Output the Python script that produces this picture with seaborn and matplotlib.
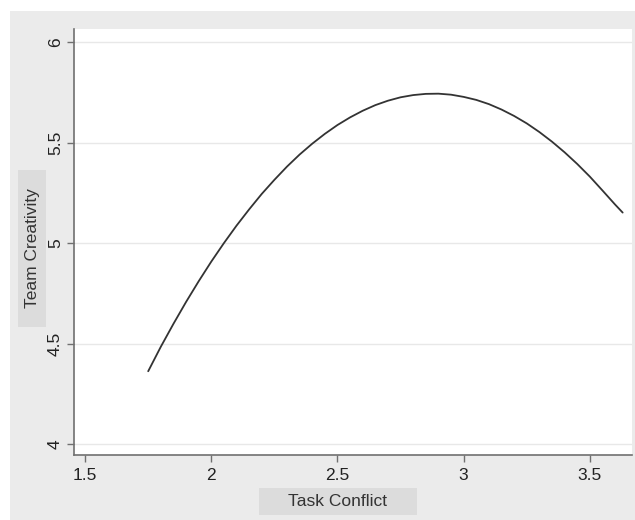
import numpy as np
import pandas as pd
import matplotlib.pyplot as plt
import seaborn as sns
from matplotlib.patches import Rectangle

# valori
task_conflict = [1.75, 1.80, 1.85, 1.90, 1.95, 2.00, 2.05, 2.10, 2.15, 2.20,
                 2.25, 2.30, 2.35, 2.40, 2.45, 2.50, 2.55, 2.60, 2.65, 2.70,
                 2.75, 2.80, 2.85, 2.90, 2.95, 3.00, 3.05, 3.10, 3.15, 3.20,
                 3.25, 3.30, 3.35, 3.40, 3.45, 3.50, 3.55, 3.60, 3.63]
team_creativity = [4.362, 4.484, 4.598, 4.707, 4.810, 4.908, 5.000, 5.087, 5.168, 5.245,
                   5.315, 5.381, 5.441, 5.495, 5.544, 5.588, 5.626, 5.659, 5.687, 5.709,
                   5.726, 5.737, 5.743, 5.744, 5.739, 5.728, 5.713, 5.692, 5.665, 5.633,
                   5.596, 5.553, 5.505, 5.452, 5.394, 5.331, 5.262, 5.192, 5.152]

x_ticks = [1.5, 2, 2.5, 3, 3.5]
x_tick_labels = ["1.5", "2", "2.5", "3", "3.5"]
y_ticks = [4, 4.5, 5, 5.5, 6]
y_tick_labels = ["4", "4.5", "5", "5.5", "6"]

df = pd.DataFrame({"Task Conflict": task_conflict, "Team Creativity": team_creativity})

sns.set_style("white")
plt.rcParams['font.family'] = ['Liberation Sans', 'DejaVu Sans']

W, H = 635, 520
fig = plt.figure(figsize=(W / 100, H / 100), dpi=100)
fig.patch.set_facecolor("white")

# sfondo grigio stile Stata
fig.add_artist(Rectangle((10 / W, 0), 1 - 10 / W, 1 - 11 / H, transform=fig.transFigure,
                         facecolor="#ebebeb", edgecolor="none", zorder=-1))
# riquadri dietro le etichette degli assi
fig.add_artist(Rectangle((259 / W, 5 / H), 158 / W, 27 / H, transform=fig.transFigure,
                         facecolor="#dcdcdc", edgecolor="none", zorder=-0.5))
fig.add_artist(Rectangle((18 / W, 193 / H), 28 / W, 157 / H, transform=fig.transFigure,
                         facecolor="#dcdcdc", edgecolor="none", zorder=-0.5))

ax = fig.add_axes([74 / W, 65 / H, 558 / W, 426 / H])
ax.set_facecolor("white")

sns.lineplot(data=df, x="Task Conflict", y="Team Creativity", color="#333333",
             linewidth=1.3, ax=ax)

ax.set_xlim(1.456, 3.667)
ax.set_ylim(3.945, 6.066)
ax.set_xticks(x_ticks)
ax.set_xticklabels(x_tick_labels)
ax.set_yticks(y_ticks)
ax.set_yticklabels(y_tick_labels, rotation=90, va="center")

ax.grid(axis="y", color="#e8e8e8", linewidth=1)
ax.grid(axis="x", visible=False)
for s in ["top", "right"]:
    ax.spines[s].set_visible(False)
for s in ["left", "bottom"]:
    ax.spines[s].set_color("#707070")
    ax.spines[s].set_linewidth(1.2)

ax.tick_params(axis="both", direction="out", length=5, width=1, color="#707070",
               labelsize=12.5, labelcolor="#222222", left=True, bottom=True)
ax.tick_params(axis="x", pad=4)
ax.tick_params(axis="y", pad=3)

ax.set_xlabel("")
ax.set_ylabel("")
fig.text(338 / W, 1 - 501 / H, "Task Conflict", ha="center", va="center",
         fontsize=12.5, color="#333333")
fig.text(32 / W, 1 - 248 / H, "Team Creativity", ha="center", va="center",
         rotation=90, fontsize=12.5, color="#333333")

fig.savefig("out.png", dpi=100)
